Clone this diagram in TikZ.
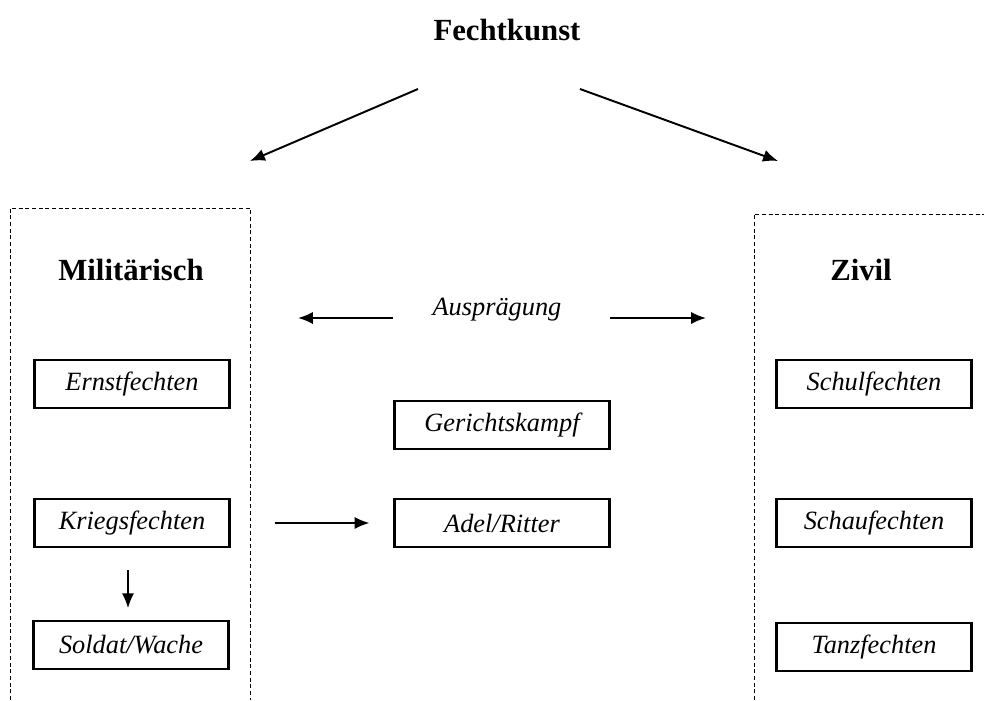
\documentclass[tikz,border=0pt]{standalone}
\usepackage{fontspec}
\setmainfont{Liberation Serif}
\usetikzlibrary{positioning}
\usetikzlibrary{arrows.meta}

\begin{document}
\begin{tikzpicture}
  [x=0.02cm, y=-0.02cm,
   every path/.style = {line width=1.1pt, >={Latex[length=8.5pt,width=7pt]}},
   head/.style = {font=\fontsize{17.5}{20}\selectfont\bfseries},
   term/.style = {font=\fontsize{15}{18}\selectfont\itshape},
   box/.style = {draw, line width=1.2pt, minimum width=3.9cm, minimum height=0.95cm,
                 font=\fontsize{15}{18}\selectfont\itshape},
   wide/.style = {box, minimum width=4.3cm},
   frame/.style = {line width=0.55pt, dash pattern=on 2.2pt off 1.6pt}]
  \useasboundingbox (0,0) rectangle (984,700);

  % Kopf
  \node[head] (fecht) at (507,30) {Fechtkunst};
  \coordinate (fechtL) at (418,89);
  \coordinate (fechtR) at (580,89);
  \coordinate (milArr) at (250,161);
  \coordinate (zivArr) at (778,161);
  \draw[->] (fechtL) -- (milArr);
  \draw[->] (fechtR) -- (zivArr);

  % Rahmen
  \draw[frame] (10,700) -- (10,208) -- (250,208) -- (250,700);
  \draw[frame] (754,700) -- (754,214) -- (984,214);
  \node[head] (mil) at (131,270) {Militärisch};
  \node[head] (ziv) at (861,270) {Zivil};

  % Mitte
  \node[term] (ausp) at (497,310) {Ausprägung};
  \coordinate (auspL) at (393,318);
  \coordinate (auspLend) at (298,318);
  \coordinate (auspR) at (610,318);
  \coordinate (auspRend) at (706,318);
  \draw[->] (auspL) -- (auspLend);
  \draw[->] (auspR) -- (auspRend);

  % Kaesten
  \node[box] (ernst) at (132,384) {Ernstfechten};
  \node[box] (krieg) at (132,523) {Kriegsfechten};
  \node[box] (soldat) at (131,645) {Soldat/Wache};
  \node[wide] (gericht) at (502,425) {Gerichtskampf};
  \node[wide] (adel) at (502,523) {Adel/Ritter};
  \node[box] (schul) at (874,384) {Schulfechten};
  \node[box] (schau) at (874,523) {Schaufechten};
  \node[box] (tanz) at (874,647) {Tanzfechten};

  \draw[->, shorten <=0.88cm, shorten >=0.48cm] (krieg.east) -- (adel.west);
  \draw[->, shorten <=0.44cm, shorten >=0.24cm] ([xshift=-0.08cm]krieg.south) -- ([xshift=-0.06cm]soldat.north);
\end{tikzpicture}
\end{document}
